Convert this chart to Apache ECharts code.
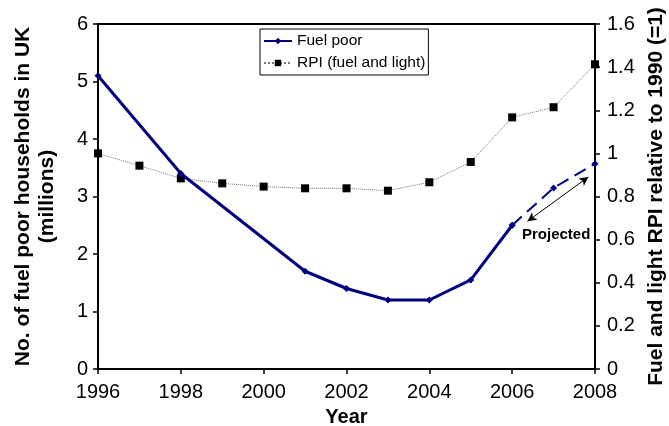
<!DOCTYPE html>
<html>
<head>
<meta charset="utf-8">
<script src="https://cdn.jsdelivr.net/npm/echarts@6/dist/echarts.min.js"></script>
<style>
  html, body { margin: 0; padding: 0; background: #fff; }
  #chart { width: 669px; height: 426px; }
</style>
</head>
<body>
<div id="chart"></div>
<script>
// values
const years = [1996, 1997, 1998, 1999, 2000, 2001, 2002, 2003, 2004, 2005, 2006, 2007, 2008];
const fuelPoor = [5.1, null, 3.4, null, null, 1.7, 1.4, 1.2, 1.2, 1.55, 2.5, 3.15, 3.57];
const rpi = [1.0, 0.943, 0.884, 0.861, 0.846, 0.838, 0.838, 0.827, 0.866, 0.96, 1.167, 1.214, 1.413];
const projectedFrom = 2006;

const leftTicks = { min: 0, max: 6, interval: 1 };
const rightTicks = { min: 0, max: 1.6, interval: 0.2 };

const font = 'Liberation Sans';
const navy = '#000080';

const actual = [];
const projected = [];
years.forEach((y, i) => {
  if (fuelPoor[i] == null) return;
  if (y <= projectedFrom) actual.push([y, fuelPoor[i]]);
  if (y >= projectedFrom) projected.push([y, fuelPoor[i]]);
});
const rpiData = years.map((y, i) => [y, rpi[i]]);

const chart = echarts.init(document.getElementById('chart'));

const axisLine = { show: true, lineStyle: { color: '#000', width: 2 } };

chart.setOption({
  animation: false,
  backgroundColor: '#fff',
  textStyle: { fontFamily: font },
  grid: {
    left: 98, right: 74, top: 24, bottom: 57,
    outerBoundsMode: 'none',
    show: true, borderColor: '#000', borderWidth: 2
  },
  legend: {
    data: ['Fuel poor', 'RPI (fuel and light)'],
    orient: 'vertical',
    left: 260, top: 29,
    padding: [4, 3, 4, 3],
    itemGap: 6,
    itemWidth: 28, itemHeight: 8,
    borderColor: '#000', borderWidth: 1,
    backgroundColor: '#fff',
    textStyle: { fontFamily: font, fontSize: 15.5, color: '#000' }
  },
  xAxis: {
    type: 'value',
    min: 1996, max: 2008, interval: 2,
    name: 'Year',
    nameLocation: 'middle',
    nameGap: 38,
    nameTextStyle: { fontFamily: font, fontSize: 20, fontWeight: 'bold', color: '#000' },
    axisLine: axisLine,
    axisTick: { show: true, length: 5, lineStyle: { color: '#000', width: 1.5 } },
    axisLabel: { fontFamily: font, fontSize: 20, color: '#000', margin: 13, formatter: v => String(v) },
    splitLine: { show: false }
  },
  yAxis: [
    {
      type: 'value',
      min: leftTicks.min, max: leftTicks.max, interval: leftTicks.interval,
      name: 'No. of fuel poor households in UK\n(millions)',
      nameLocation: 'middle',
      nameGap: 39,
      nameTextStyle: { fontFamily: font, fontSize: 21, fontWeight: 'bold', color: '#000', lineHeight: 24 },
      axisLine: axisLine,
      axisTick: { show: true, length: 5, lineStyle: { color: '#000', width: 1.5 } },
      axisLabel: { fontFamily: font, fontSize: 20, color: '#000', margin: 10 },
      splitLine: { show: false }
    },
    {
      type: 'value',
      position: 'right',
      min: rightTicks.min, max: rightTicks.max, interval: rightTicks.interval,
      name: 'Fuel and light RPI relative to 1990 (=1)',
      nameLocation: 'middle',
      nameGap: 50,
      nameRotate: 90,
      nameTextStyle: { fontFamily: font, fontSize: 21, fontWeight: 'bold', color: '#000' },
      axisLine: axisLine,
      axisTick: { show: true, length: 5, lineStyle: { color: '#000', width: 1.5 } },
      axisLabel: { fontFamily: font, fontSize: 20, color: '#000', margin: 12 },
      splitLine: { show: false }
    }
  ],
  graphic: [
    {
      type: 'text',
      left: 522, top: 227,
      style: { text: 'Projected', font: 'bold 15px "Liberation Sans"', fill: '#000' }
    }
  ],
  series: [
    {
      name: 'RPI (fuel and light)',
      type: 'line',
      yAxisIndex: 1,
      data: rpiData,
      symbol: 'rect',
      symbolSize: 8,
      itemStyle: { color: '#000' },
      lineStyle: { color: '#777', width: 1, type: 'dotted' },
      z: 2
    },
    {
      name: 'Fuel poor',
      type: 'line',
      yAxisIndex: 0,
      data: actual,
      symbol: 'diamond',
      symbolSize: 7,
      itemStyle: { color: navy },
      lineStyle: { color: navy, width: 3 },
      z: 3
    },
    {
      name: 'Fuel poor',
      type: 'line',
      yAxisIndex: 0,
      data: projected,
      symbol: 'diamond',
      symbolSize: 7,
      itemStyle: { color: navy },
      lineStyle: { color: navy, width: 2, type: [13, 7] },
      z: 3,
      markLine: {
        silent: true,
        symbol: ['arrow', 'arrow'],
        symbolSize: [7, 9],
        label: { show: false },
        lineStyle: { color: '#000', width: 1, type: 'solid' },
        data: [[{ coord: [2006.37, 2.57] }, { coord: [2007.84, 3.34] }]]
      }
    }
  ]
});
</script>
</body>
</html>
